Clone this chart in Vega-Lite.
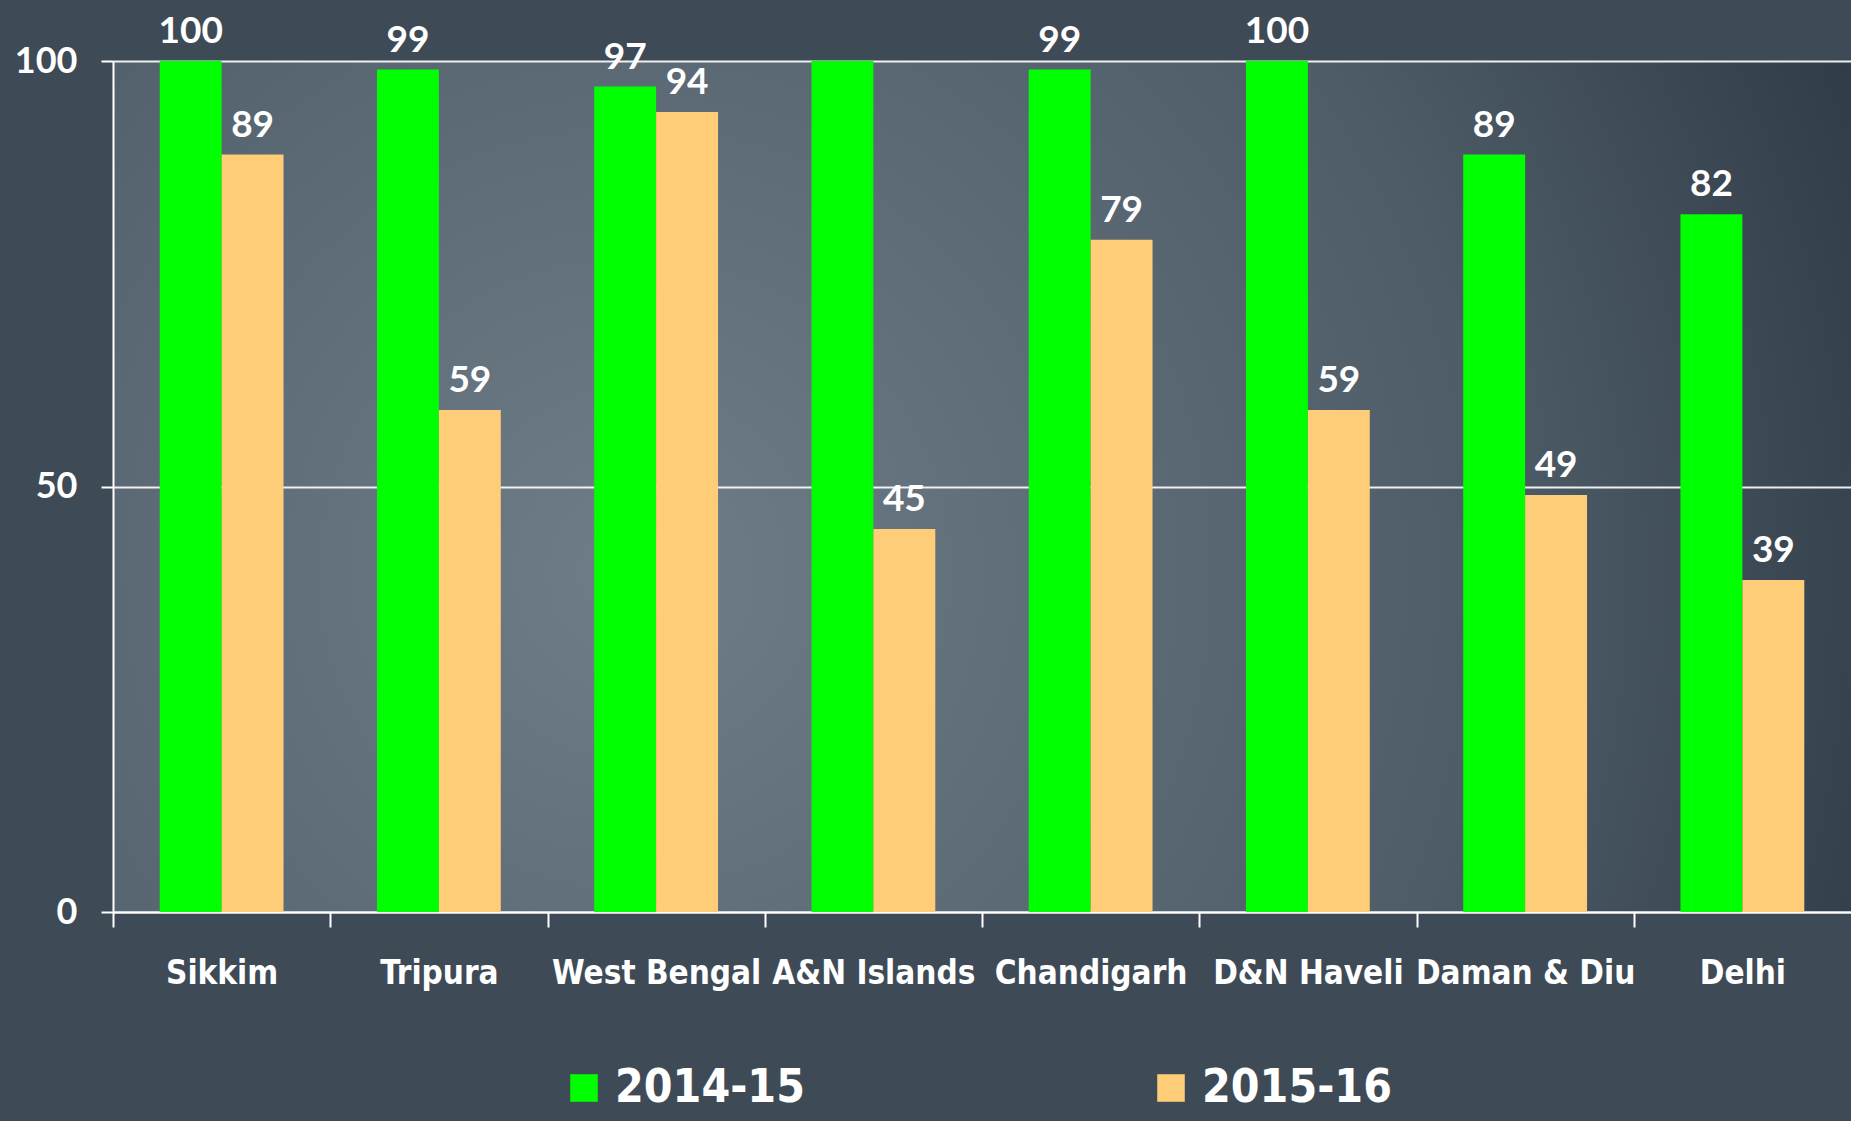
{
  "$schema": "https://vega.github.io/schema/vega-lite/v6.json",
  "width": 1738,
  "height": 851,
  "autosize": {"type": "none"},
  "padding": {"left": 113, "top": 61, "right": 0, "bottom": 209},
  "background": "#3e4b57",
  "config": {
    "view": {
      "stroke": null,
      "fill": {
        "gradient": "radial",
        "x1": 0.3, "y1": 0.55, "r1": 0,
        "x2": 0.3, "y2": 0.55, "r2": 0.9,
        "stops": [
          {"offset": 0, "color": "#6f7d88"},
          {"offset": 0.55, "color": "#4e5c68"},
          {"offset": 1, "color": "#202c38"}
        ]
      }
    }
  },
  "data": {
    "values": [
      {"state": "Sikkim", "year": "2014-15", "value": 100, "label": "100"},
      {"state": "Sikkim", "year": "2015-16", "value": 89, "label": "89"},
      {"state": "Tripura", "year": "2014-15", "value": 99, "label": "99"},
      {"state": "Tripura", "year": "2015-16", "value": 59, "label": "59"},
      {"state": "West Bengal", "year": "2014-15", "value": 97, "label": "97"},
      {"state": "West Bengal", "year": "2015-16", "value": 94, "label": "94"},
      {"state": "A&N Islands", "year": "2014-15", "value": 100, "label": ""},
      {"state": "A&N Islands", "year": "2015-16", "value": 45, "label": "45"},
      {"state": "Chandigarh", "year": "2014-15", "value": 99, "label": "99"},
      {"state": "Chandigarh", "year": "2015-16", "value": 79, "label": "79"},
      {"state": "D&N Haveli", "year": "2014-15", "value": 100, "label": "100"},
      {"state": "D&N Haveli", "year": "2015-16", "value": 59, "label": "59"},
      {"state": "Daman & Diu", "year": "2014-15", "value": 89, "label": "89"},
      {"state": "Daman & Diu", "year": "2015-16", "value": 49, "label": "49"},
      {"state": "Delhi", "year": "2014-15", "value": 82, "label": "82"},
      {"state": "Delhi", "year": "2015-16", "value": 39, "label": "39"}
    ]
  },
  "encoding": {
    "x": {
      "field": "state",
      "type": "nominal",
      "sort": null,
      "scale": {"paddingInner": 0.43, "paddingOuter": 0.215},
      "axis": {
        "title": null,
        "domainColor": "white",
        "domainWidth": 2,
        "ticks": true,
        "tickColor": "white",
        "tickWidth": 2,
        "tickSize": 15,
        "tickOffset": -108.6,
        "labelOffset": 108.6,
        "labelFont": "DejaVu Sans Condensed",
        "labelFontWeight": "bold",
        "labelFontSize": 33,
        "labelColor": "white",
        "labelPadding": 30,
        "labelAngle": 0,
        "labelLimit": 0,
        "labelOverlap": false
      }
    },
    "xOffset": {
      "field": "year",
      "type": "nominal",
      "scale": {"paddingInner": 0, "paddingOuter": 0}
    },
    "y": {
      "field": "value",
      "type": "quantitative",
      "scale": {"domain": [0, 100], "nice": false},
      "axis": {
        "title": null,
        "values": [0, 50, 100],
        "grid": true,
        "gridColor": "white",
        "gridWidth": 2,
        "gridOpacity": 0.9,
        "domainColor": "white",
        "domainWidth": 2,
        "tickColor": "white",
        "tickWidth": 2,
        "tickSize": 12,
        "labelPadding": 24,
        "labelFont": "Lato",
        "labelFontWeight": "bold",
        "labelFontSize": 36,
        "labelColor": "white"
      }
    }
  },
  "layer": [
    {
      "mark": {"type": "bar"},
      "encoding": {
        "color": {
          "field": "year",
          "type": "nominal",
          "scale": {"range": ["#00FF00", "#FFCC77"]},
          "legend": {
            "orient": "none",
            "legendX": 448,
            "legendY": 1004,
            "direction": "horizontal",
            "title": null,
            "symbolType": "square",
            "symbolSize": 760,
            "symbolStrokeWidth": 0,
            "symbolOpacity": 1,
            "labelFont": "DejaVu Sans Condensed",
            "labelFontSize": 46,
            "labelFontWeight": "bold",
            "labelColor": "white",
            "labelOffset": 8,
            "columnPadding": 343,
            "padding": 0,
            "labelLimit": 400
          }
        }
      }
    },
    {
      "mark": {
        "type": "text",
        "dy": -18,
        "baseline": "alphabetic",
        "font": "Lato",
        "fontWeight": "bold",
        "fontSize": 37,
        "color": "white"
      },
      "encoding": {"text": {"field": "label"}}
    }
  ]
}
